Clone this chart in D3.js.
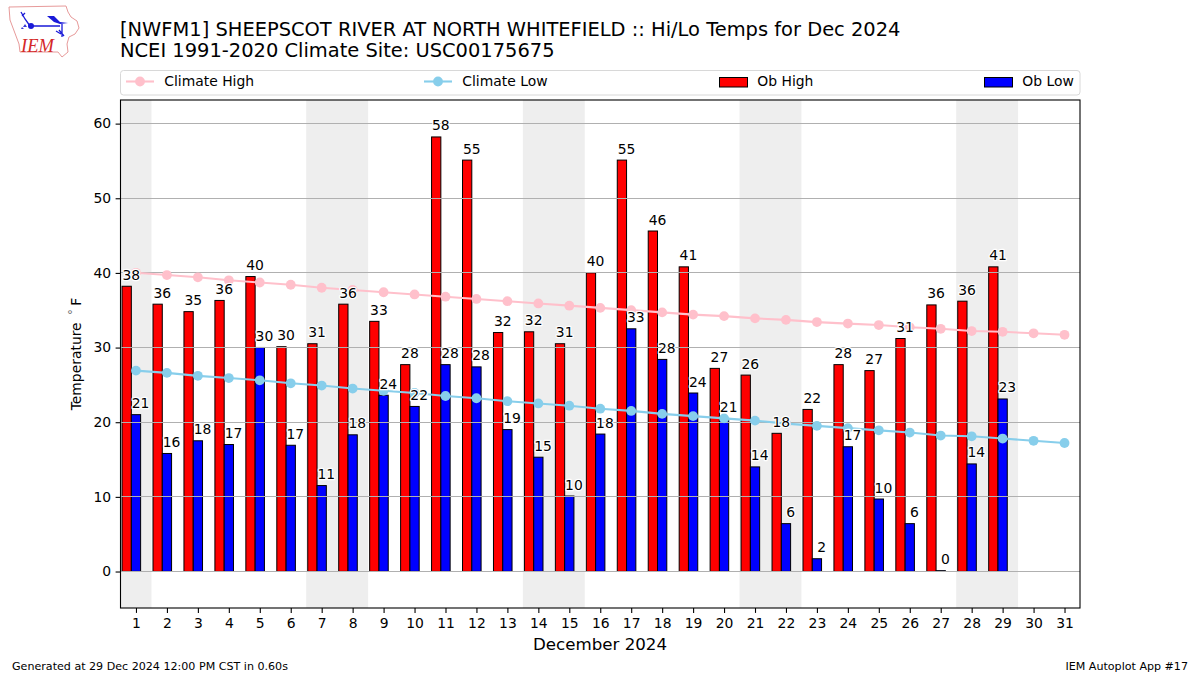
<!DOCTYPE html>
<html><head><meta charset="utf-8">
<style>html,body{margin:0;background:#fff}svg{display:block}text{font-family:"DejaVu Sans",sans-serif;fill:#000}</style>
<script src="https://cdn.jsdelivr.net/npm/d3@7"></script></head><body>
<script>
const days = d3.range(1, 32);
const obHigh = [38.2,35.8,34.8,36.3,39.5,30.1,30.5,35.8,33.5,27.7,58.2,55.1,32,32.1,30.5,40,55.1,45.6,40.8,27.2,26.3,18.5,21.7,27.7,26.9,31.2,35.7,36.2,40.8];
const obLow = [21,15.8,17.5,17,30,16.9,11.5,18.3,23.6,22.1,27.7,27.4,19,15.3,10.1,18.4,32.5,28.4,23.9,20.5,14,6.4,1.7,16.7,9.7,6.4,0.1,14.4,23.1];
const highLabels = [38,36,35,36,40,30,31,36,33,28,58,55,32,32,31,40,55,46,41,27,26,18,22,28,27,31,36,36,41];
const lowLabels = [21,16,18,17,30,17,11,18,24,22,28,28,19,15,10,18,33,28,24,21,14,6,2,17,10,6,0,14,23];
const climateHigh = [40.0,39.7,39.4,39.0,38.7,38.4,38.0,37.7,37.4,37.1,36.8,36.5,36.2,35.9,35.6,35.3,35.0,34.7,34.4,34.2,33.9,33.7,33.4,33.2,33.0,32.7,32.5,32.2,32.1,31.9,31.7];
const climateLow = [26.9,26.6,26.2,25.9,25.6,25.2,24.9,24.5,24.2,23.9,23.5,23.2,22.8,22.5,22.2,21.8,21.5,21.1,20.8,20.5,20.2,19.8,19.5,19.2,18.9,18.6,18.2,18.1,17.8,17.5,17.2];
const weekends = [[0.5,1.5],[6.5,8.5],[13.5,15.5],[20.5,22.5],[27.5,29.5]];
const yTicks = [0,10,20,30,40,50,60];
const titleLines = ["[NWFM1] SHEEPSCOT RIVER AT NORTH WHITEFIELD :: Hi/Lo Temps for Dec 2024","NCEI 1991-2020 Climate Site: USC00175675"];

const W=1200,H=675,L=120.5,R=1080,T=100,B=608;
const svg=d3.select("body").append("svg").attr("width",W).attr("height",H);
const x=d3.scaleLinear().domain([0.5,31.5]).range([L,R]);
const y=d3.scaleLinear().domain([-4.9,63.15]).range([B,T]);

svg.append("g").selectAll("rect").data(weekends).join("rect")
 .attr("x",d=>x(d[0])).attr("width",d=>x(d[1])-x(d[0])).attr("y",T).attr("height",B-T).attr("fill","#eeeeee");

const barW=x(0.3)-x(0);
function bars(vals,off,col){
 svg.append("g").selectAll("rect").data(vals).join("rect")
  .attr("x",(d,i)=>x(days[i]+off)).attr("width",barW)
  .attr("y",d=>y(d)).attr("height",d=>y(0)-y(d))
  .attr("fill",col).attr("stroke","#000").attr("stroke-width",1);
}
bars(obHigh,-0.45,"#ff0000");
bars(obLow,-0.15,"#0000ff");

const snap=d=>Math.floor(y(d)+0.15)+.5;
svg.append("g").selectAll("line").data(yTicks).join("line")
 .attr("x1",L).attr("x2",R).attr("y1",snap).attr("y2",snap)
 .attr("stroke","#b0b0b0").attr("stroke-width",1.1);

function clim(vals,col){
 const g=svg.append("g");
 g.append("path").datum(vals).attr("fill","none").attr("stroke",col).attr("stroke-width",2.1)
  .attr("d",d3.line().x((d,i)=>x(days[i])).y(d=>y(d)));
 g.selectAll("circle").data(vals).join("circle")
  .attr("cx",(d,i)=>x(days[i])).attr("cy",d=>y(d)).attr("r",4.9).attr("fill",col);
}
clim(climateHigh,"#ffc0cb");
clim(climateLow,"#87ceeb");

function labels(vals,labs,off){
 svg.append("g").selectAll("text").data(vals).join("text")
  .attr("x",(d,i)=>x(days[i]+off)).attr("y",d=>y(d)-6.5)
  .attr("text-anchor","middle").attr("font-size","13.9px")
  .attr("stroke","#fff").attr("stroke-width",2.5).attr("paint-order","stroke").attr("stroke-linejoin","round")
  .text((d,i)=>labs[i]);
}
labels(obHigh,highLabels,-0.15);
labels(obLow,lowLabels,0.15);

const axB=d3.axisBottom(x).tickValues(days).tickFormat(d3.format("d")).tickSize(4.9).tickPadding(5.5);
const gx=svg.append("g").attr("transform",`translate(0,${B})`).call(axB);
const axL=d3.axisLeft(y).tickValues(yTicks).tickFormat(d3.format("d")).tickSize(4.9).tickPadding(4.5);
const gy=svg.append("g").attr("transform",`translate(${L},0)`).call(axL);
[gx,gy].forEach(g=>{g.select(".domain").remove();g.selectAll("text").attr("font-size","13.9px").attr("font-family",'"DejaVu Sans"');g.selectAll("line").attr("stroke","#000").attr("stroke-width",1.1)});
gy.selectAll(".tick line").attr("y1",0.1).attr("y2",0.1);
svg.append("rect").attr("x",L).attr("y",T).attr("width",R-L).attr("height",B-T).attr("fill","none").attr("stroke","#000").attr("stroke-width",1.1);

svg.append("g").selectAll("text").data(titleLines).join("text")
 .attr("x",120).attr("y",(d,i)=>35.5+i*21.5).attr("font-size","19.45px").text(d=>d);
svg.append("text").attr("x",600).attr("y",649.5).attr("text-anchor","middle").attr("font-size","16.67px").text("December 2024");
const yl=svg.append("text").attr("transform","translate(81,354) rotate(-90)").attr("text-anchor","middle").attr("font-size","13.9px");
yl.append("tspan").text("Temperature\u2002");
yl.append("tspan").style("fill","#777").text("˚");
yl.append("tspan").text("\u2009F");
svg.append("text").attr("x",12).attr("y",670).attr("font-size","11.1px").text("Generated at 29 Dec 2024 12:00 PM CST in 0.60s");
svg.append("text").attr("x",1188).attr("y",670).attr("text-anchor","end").attr("font-size","11.1px").text("IEM Autoplot App #17");

svg.append("rect").attr("x",120.5).attr("y",70.5).attr("width",959.5).attr("height",24.5).attr("rx",3).attr("fill","#fff").attr("stroke","#d8d8d8");
const legendItems=[{t:"Climate High",c:"#ffc0cb",k:"l",px:126},{t:"Climate Low",c:"#87ceeb",k:"l",px:424},{t:"Ob High",c:"#ff0000",k:"b",px:719},{t:"Ob Low",c:"#0000ff",k:"b",px:984}];
legendItems.forEach(o=>{
 const g=svg.append("g");
 if(o.k==="l"){
  g.append("line").attr("x1",o.px).attr("x2",o.px+28).attr("y1",81.5).attr("y2",81.5).attr("stroke",o.c).attr("stroke-width",2.1);
  g.append("circle").attr("cx",o.px+14).attr("cy",81.5).attr("r",4.9).attr("fill",o.c);
 } else {
  g.append("rect").attr("x",o.px+.5).attr("y",77.5).attr("width",28).attr("height",9.5).attr("fill",o.c).attr("stroke","#000");
 }
 g.append("text").attr("x",o.px+38.3).attr("y",86).attr("font-size","13.9px").text(o.t);
});

// logo
const logo=svg.append("g");
logo.append("path").attr("d","M9 7 L66 6 L68 12 L71 17 L77 21 L79 28 L75 34 L69 37 L67 44 L68 52 L62 57 L58 52 L20 52 L19 44 L16 36 L13 28 L10 20 Z").attr("fill","#fff").attr("stroke","#e79a9a").attr("stroke-width",1);
logo.append("path").attr("d","M21 12 L25 19 L30 26 L60 26 M22 16 L25 13 M62 24 L62 37 M56 31 L61 34 M59 30 L64 36").attr("fill","none").attr("stroke","#1a1ad8").attr("stroke-width",1.3);
logo.append("path").attr("d","M47 16 L54 16 L60 22 L68 23 L60 24 L54 22 Z").attr("fill","#1a1ad8");
logo.append("circle").attr("cx",31).attr("cy",26).attr("r",3).attr("fill","#1a1ad8");
logo.append("path").attr("d","M25 24 L27 27 L23 27 Z M22 27 L24 29 L21 29 Z").attr("fill","#3a3ad8");
logo.append("text").attr("x",21).attr("y",52).attr("font-family","Liberation Serif").attr("font-style","italic").attr("font-size","18.5px").style("font-family","Liberation Serif").style("fill","#d42828").text("IEM");
</script></body></html>
